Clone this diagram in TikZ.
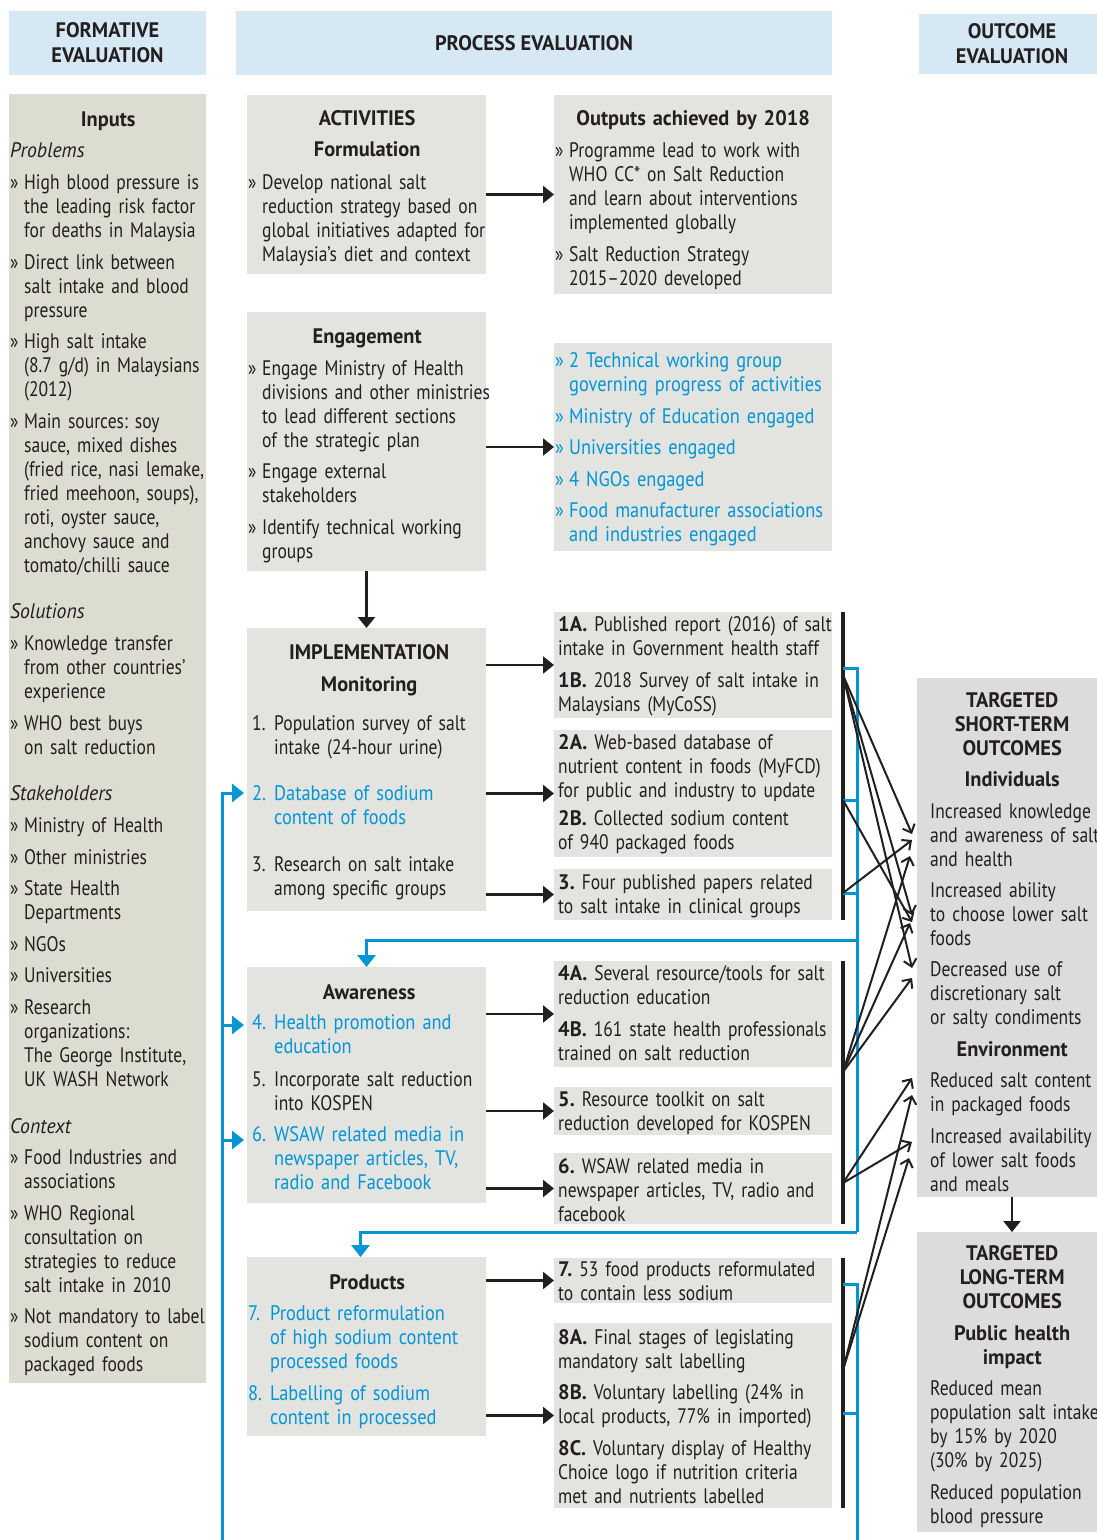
\documentclass[tikz,border=0pt]{standalone}
\usepackage{fontspec}
\setmainfont{PT Sans}[UprightFeatures={FakeStretch=0.835},
    BoldFeatures={FakeStretch=0.97}, ItalicFeatures={FakeStretch=0.94}]
\newfontfamily\linkfont{PT Sans}[FakeStretch=0.875]
\usetikzlibrary{arrows.meta, positioning, calc}
\hyphenpenalty=10000
\exhyphenpenalty=10000
\frenchspacing

\definecolor{hdrblue}{HTML}{D5E8F4}
\definecolor{inbeige}{HTML}{DCDCD0}
\definecolor{procgrey}{HTML}{E3E3DF}
\definecolor{outgrey}{HTML}{DCDCDC}
\definecolor{linkblue}{HTML}{0096D6}
\definecolor{ink}{HTML}{231F20}

% text helpers
\newcommand{\brk}{\newline}
\newcommand{\gap}[1]{\par\vspace{#1pt}}
\newcommand{\bul}{\hangindent=14pt\hangafter=1\noindent\makebox[14pt][l]{»}}
\newcommand{\numi}[1]{\hangindent=22pt\hangafter=1\noindent\makebox[22pt][l]{#1}}
\newcommand{\hdr}[2]{\noindent\makebox[#1pt]{\bfseries #2}\par}
\newcommand{\blue}{\color{linkblue}\linkfont}

\tikzset{
    hdrbox/.style={fill=hdrblue, inner sep=0pt, outer sep=0pt, anchor=north west,
        align=center, text=ink, font=\bfseries\fontsize{21pt}{25pt}\selectfont},
    inbox/.style={fill=inbeige, inner sep=0pt, outer sep=0pt, anchor=north west},
    procbox/.style={fill=procgrey, inner sep=0pt, outer sep=0pt, anchor=north west},
    outbox/.style={fill=outgrey, inner sep=0pt, outer sep=0pt, anchor=north west},
    txt/.style={inner sep=0pt, anchor=base west, align=left, text=ink,
        font=\fontsize{21pt}{24pt}\selectfont},
    flow/.style={draw=ink, line width=2.5pt, -{Triangle[length=11pt,width=17pt]}},
    bar/.style={draw=ink, line width=4.5pt},
    feed/.style={draw=linkblue, line width=3pt},
    feedarr/.style={feed, -{Triangle[length=12pt,width=18pt]}},
    effect/.style={draw=ink, line width=2pt, -{Straight Barb[length=7pt,width=13pt]}}
}

\begin{document}
\begin{tikzpicture}[x=1pt, y=-1pt]
    \useasboundingbox (0,0) rectangle (1096,1540);

    % column headers
    \node[hdrbox, minimum width=197pt, minimum height=64pt] (formhdr) at (9,11) {FORMATIVE\\EVALUATION};
    \node[hdrbox, minimum width=596pt, minimum height=64pt] (prochdr) at (236,11) {PROCESS EVALUATION};
    \node[hdrbox, minimum width=186pt, minimum height=60pt] (outhdr) at (919,14) {OUTCOME\\EVALUATION};

    % formative column
    \node[inbox, minimum width=197pt, minimum height=1289pt] (inputs) at (9,94) {};
    \node[txt, text width=215pt] (inputstxt) at (10,126) {%
        \hdr{196}{Inputs}\gap{7}
        \textit{Problems}\gap{8}
        \bul High blood pressure is\brk the leading risk factor\brk for deaths in Malaysia\gap{8}
        \bul Direct link between\brk salt intake and blood\brk pressure\gap{7}
        \bul High salt intake\brk (8.7 g/d) in Malaysians\brk (2012)\gap{8}
        \bul Main sources: soy\brk sauce, mixed dishes\brk (fried rice, nasi lemake,\brk fried meehoon, soups),\brk roti, oyster sauce,\brk anchovy sauce and\brk tomato/chilli sauce\gap{22}
        \textit{Solutions}\gap{8}
        \bul Knowledge transfer\brk from other countries’\brk experience\gap{8}
        \bul WHO best buys\brk on salt reduction\gap{22}
        \textit{Stakeholders}\gap{8}
        \bul Ministry of Health\gap{8}
        \bul Other ministries\gap{7}
        \bul State Health\brk Departments\gap{8}
        \bul NGOs\gap{7}
        \bul Universities\gap{8}
        \bul Research\brk organizations:\brk The George Institute,\brk UK WASH Network\gap{23}
        \textit{Context}\gap{7}
        \bul Food Industries and\brk associations\gap{8}
        \bul WHO Regional\brk consultation on\brk strategies to reduce\brk salt intake in 2010\gap{7}
        \bul Not mandatory to label\brk sodium content on\brk packaged foods\par};

    % activities: formulation
    \node[procbox, minimum width=239pt, minimum height=179pt] (act) at (247,95) {};
    \node[txt, text width=250pt] at (248,125) {%
        \hdr{238}{ACTIVITIES}\gap{7}
        \hdr{238}{Formulation}\gap{9}
        \bul Develop national salt\brk reduction strategy based on\brk global initiatives adapted for\brk Malaysia’s diet and context\par};
    \node[procbox, minimum width=278pt, minimum height=199pt] (actout) at (554,95) {};
    \node[txt, text width=290pt] at (555,125) {%
        \hdr{276}{Outputs achieved by 2018}\gap{8}
        \bul Programme lead to work with\brk WHO CC* on Salt Reduction\brk and learn about interventions\brk implemented globally\gap{8}
        \bul Salt Reduction Strategy\brk 2015--2020 developed\par};

    % engagement
    \node[procbox, minimum width=239pt, minimum height=259pt] (eng) at (247,312) {};
    \node[txt, text width=250pt] at (248,343) {%
        \hdr{238}{Engagement}\gap{8}
        \bul Engage Ministry of Health\brk divisions and other ministries\brk to lead different sections\brk of the strategic plan\gap{7}
        \bul Engage external\brk stakeholders\gap{8}
        \bul Identify technical working\brk groups\par};
    \node[procbox, minimum width=278pt, minimum height=208pt] (engout) at (554,343) {};
    \node[txt, text width=290pt, text=linkblue, font=\fontsize{21pt}{24pt}\linkfont] at (555,367) {%
        \bul 2 Technical working group\brk governing progress of activities\gap{8}
        \bul Ministry of Education engaged\gap{7}
        \bul Universities engaged\gap{8}
        \bul 4 NGOs engaged\gap{7}
        \bul Food manufacturer associations\brk and industries engaged\par};

    % implementation: monitoring
    \node[procbox, minimum width=239pt, minimum height=283pt] (impl) at (247,628) {};
    \node[txt, text width=240pt] at (252,659) {%
        \hdr{234}{IMPLEMENTATION}\gap{8}
        \hdr{234}{Monitoring}\gap{15}
        \numi{1.}Population survey of salt\brk intake (24-hour urine)\gap{22}
        {\blue\numi{2.}Database of sodium\brk content of foods\par}\gap{23}
        \numi{3.}Research on salt intake\brk among specific groups\par};
    \node[procbox, minimum width=278pt, minimum height=106pt] (mon1) at (554,612) {};
    \node[txt, text width=285pt] at (558,631) {%
        \textbf{1A.} Published report (2016) of salt\brk intake in Government health staff\gap{8}
        \textbf{1B.} 2018 Survey of salt intake in\brk Malaysians (MyCoSS)\par};
    \node[procbox, minimum width=278pt, minimum height=127pt] (mon2) at (554,730) {};
    \node[txt, text width=285pt] at (558,749) {%
        \textbf{2A.} Web-based database of\brk nutrient content in foods (MyFCD)\brk for public and industry to update\gap{4}
        \textbf{2B.} Collected sodium content\brk of 940 packaged foods\par};
    \node[procbox, minimum width=278pt, minimum height=51pt] (mon3) at (554,869) {};
    \node[txt, text width=285pt] at (558,889) {%
        \textbf{3.} Four published papers related\brk to salt intake in clinical groups\par};

    % awareness
    \node[procbox, minimum width=239pt, minimum height=236pt] (aware) at (247,967) {};
    \node[txt, text width=240pt] at (252,999) {%
        \hdr{234}{Awareness}\gap{6}
        {\blue\numi{4.}Health promotion and\brk education\par}\gap{9}
        \numi{5.}Incorporate salt reduction\brk into KOSPEN\gap{7}
        {\blue\numi{6.}WSAW related media in\brk newspaper articles, TV,\brk radio and Facebook\par}};
    \node[procbox, minimum width=278pt, minimum height=106pt] (aw4) at (554,961) {};
    \node[txt, text width=285pt] at (558,980) {%
        \textbf{4A.} Several resource/tools for salt\brk reduction education\gap{8}
        \textbf{4B.} 161 state health professionals\brk trained on salt reduction\par};
    \node[procbox, minimum width=278pt, minimum height=48pt] (aw5) at (554,1087) {};
    \node[txt, text width=285pt] at (558,1106) {%
        \textbf{5.} Resource toolkit on salt\brk reduction developed for KOSPEN\par};
    \node[procbox, minimum width=278pt, minimum height=71pt] (aw6) at (554,1153) {};
    \node[txt, text width=285pt] at (558,1173) {%
        \textbf{6.} WSAW related media in\brk newspaper articles, TV, radio and\brk facebook\par};

    % products
    \node[procbox, minimum width=239pt, minimum height=179pt] (prod) at (247,1257) {};
    \node[txt, text width=250pt] at (248,1289) {%
        \hdr{238}{Products}\gap{7}
        {\blue\numi{7.}Product reformulation\brk of high sodium content\brk processed foods\par}\gap{8}
        {\blue\numi{8.}Labelling of sodium\brk content in processed\par}};
    \node[procbox, minimum width=278pt, minimum height=45pt] (pr7) at (554,1258) {};
    \node[txt, text width=285pt] at (558,1276) {%
        \textbf{7.} 53 food products reformulated\brk to contain less sodium\par};
    \node[procbox, minimum width=278pt, minimum height=185pt] (pr8) at (554,1323) {};
    \node[txt, text width=285pt] at (558,1344) {%
        \textbf{8A.} Final stages of legislating\brk mandatory salt labelling\gap{7}
        \textbf{8B.} Voluntary labelling (24\% in\brk local products, 77\% in imported)\gap{8}
        \textbf{8C.} Voluntary display of Healthy\brk Choice logo if nutrition criteria\brk met and nutrients labelled\par};

    % outcome column
    \node[outbox, minimum width=190pt, minimum height=519pt] (shortout) at (917,678) {};
    \node[txt, text width=200pt] at (930,707) {%
        \hdr{164}{TARGETED}\hdr{164}{SHORT-TERM}\hdr{164}{OUTCOMES}\gap{7}
        \hdr{164}{Individuals}\gap{8}
        Increased knowledge\brk and awareness of salt\brk and health\gap{7}
        Increased ability\brk to choose lower salt\brk foods\gap{7}
        Decreased use of\brk discretionary salt\brk or salty condiments\gap{8}
        \hdr{164}{Environment}\gap{7}
        Reduced salt content\brk in packaged foods\gap{8}
        Increased availability\brk of lower salt foods\brk and meals\par};
    \node[outbox, minimum width=190pt, minimum height=300pt] (longout) at (917,1232) {};
    \node[txt, text width=200pt] at (930,1260) {%
        \hdr{164}{TARGETED}\hdr{164}{LONG-TERM}\hdr{164}{OUTCOMES}\gap{8}
        \hdr{164}{Public health}\hdr{164}{impact}\gap{7}
        Reduced mean\brk population salt intake\brk by 15\% by 2020\brk (30\% by 2025)\gap{8}
        Reduced population\brk blood pressure\par};

    % activity -> output arrows
    \draw[flow] (act.east |- actout) -- (actout.west);
    \draw[flow] (eng.east |- engout) -- (engout.west);
    \draw[flow] (eng.south) -- (impl.north);
    \draw[flow] (impl.east |- mon1) -- (mon1.west);
    \draw[flow] (impl.east |- mon2) -- (mon2.west);
    \draw[flow] (impl.east |- mon3) -- (mon3.west);
    \draw[flow] (aware.east |- aw4) -- (aw4.west);
    \draw[flow] (aware.east |- aw5) -- (aw5.west);
    \draw[flow] (aware.east |- aw6) -- (aw6.west);
    \draw[flow] (prod.east |- pr7) -- (pr7.west);
    \draw[flow] (prod.east |- pr8) -- (pr8.west);
    \draw[flow] (shortout.south) -- (longout.north);

    % output bars
    \draw[bar] ([xshift=11pt]mon1.north east) -- ([xshift=11pt]mon3.south east);
    \draw[bar] ([xshift=11pt]aw4.north east) -- ([xshift=11pt]aw6.south east);
    \draw[bar] ([xshift=11pt]pr7.north east) -- ([xshift=11pt]pr8.south east);

    % feedback loop
    \draw[feed] (843,668) -- (857,668) -- (857,1232);
    \draw[feed] (843,800) -- (857,800);
    \draw[feed] (843,893) -- (857,893);
    \draw[feedarr] (857,940) -| (aware.north);
    \draw[feedarr] (857,1232) -| ([xshift=-6pt]prod.north);
    \draw[feed] (843,1284) -- (857,1284) -- (857,1545);
    \draw[feed] (843,1413) -- (857,1413);
    \coordinate (in2) at (244,793);
    \coordinate (in4) at (244,1025);
    \coordinate (in6) at (244,1140);
    \draw[feedarr] (222,1545) -- (222,793) -- (in2);
    \draw[feedarr] (222,1025) -- (in4);
    \draw[feedarr] (222,1140) -- (in6);

    % bars -> targeted outcomes
    \coordinate (o1) at (843,675);
    \coordinate (o2) at (843,800);
    \coordinate (o3) at (843,893);
    \coordinate (o4) at (843,1072);
    \coordinate (o6) at (843,1183);
    \coordinate (o8) at (843,1370);
    \draw[effect] (o1) -- (912,834);
    \draw[effect] (o1) -- (912,915);
    \draw[effect] (o1) -- (912,968);
    \draw[effect] (o2) -- (912,922);
    \draw[effect] (o3) -- (912,840);
    \draw[effect] (o4) -- (910,856);
    \draw[effect] (o4) -- (910,923);
    \draw[effect] (o4) -- (912,978);
    \draw[effect] (o6) -- (912,1078);
    \draw[effect] (o6) -- (912,1142);
    \draw[effect] (o8) -- (912,1095);
    \draw[effect] (o8) -- (909,1158);
\end{tikzpicture}
\end{document}
